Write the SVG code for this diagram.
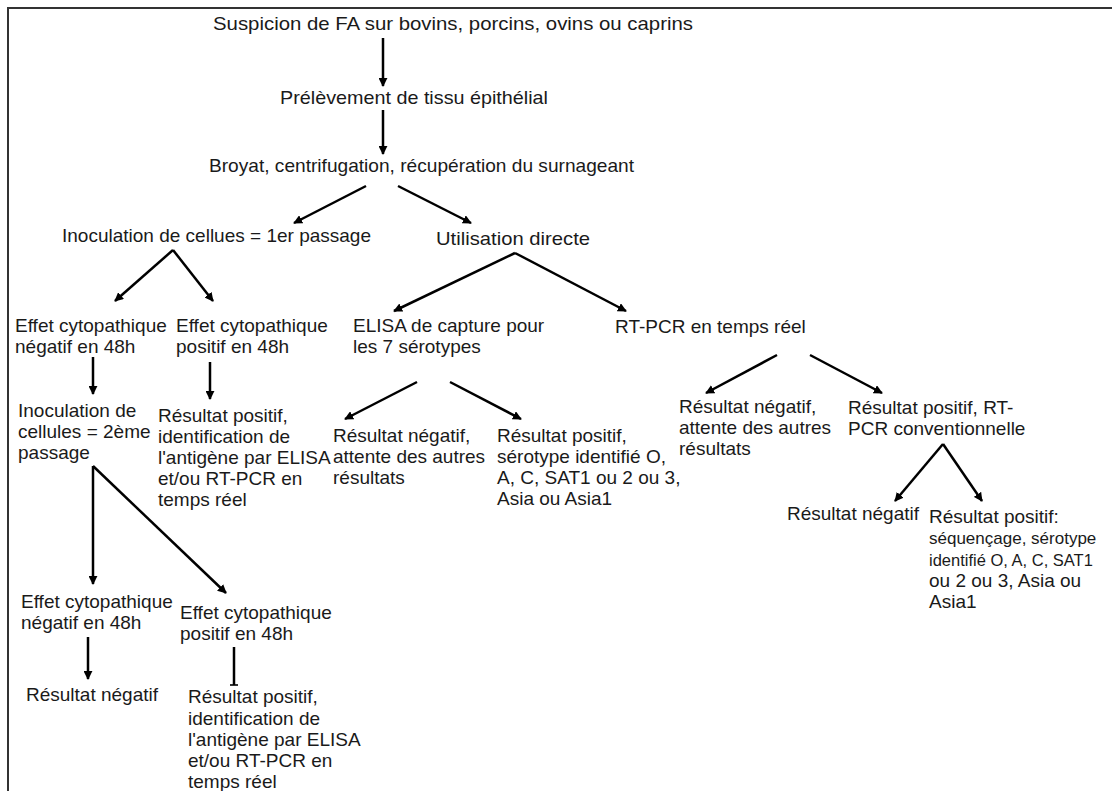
<svg xmlns="http://www.w3.org/2000/svg" width="1112" height="791" viewBox="0 0 1112 791">
<defs>
<marker id="ah" viewBox="0 0 10 10" refX="9" refY="5" markerWidth="9" markerHeight="9" markerUnits="userSpaceOnUse" orient="auto">
<path d="M0,0 L10,5 L0,10 z" fill="#000"/>
</marker>
<marker id="bar" viewBox="0 0 10 10" refX="5" refY="5" markerWidth="8" markerHeight="8" markerUnits="userSpaceOnUse" orient="auto">
<path d="M4,0 L6,0 L6,10 L4,10 z" fill="#000"/>
</marker>
</defs>
<style>
text{font-family:"Liberation Sans",Arial,sans-serif;font-size:19px;fill:#1a1a1a}
.c{stroke:#000;stroke-width:2.5;fill:none;marker-end:url(#ah)}
.cb{stroke:#000;stroke-width:2.5;fill:none;marker-end:url(#bar)}
</style>
<rect width="1112" height="791" fill="#fff"/>
<path d="M8,791 V8 H1112" fill="none" stroke="#333" stroke-width="2"/>

<g id="connectors">
<line class="c" x1="383" y1="38" x2="383" y2="86"/>
<line class="c" x1="383" y1="110" x2="383" y2="154"/>
<line class="c" x1="366" y1="186" x2="294" y2="223"/>
<line class="c" x1="398" y1="186" x2="471" y2="223"/>
<line class="c" x1="173" y1="250" x2="115" y2="301"/>
<line class="c" x1="173" y1="250" x2="213" y2="301"/>
<line class="c" x1="93" y1="357" x2="93" y2="394"/>
<line class="c" x1="210" y1="362" x2="210" y2="399"/>
<line class="c" x1="515" y1="253" x2="394" y2="311"/>
<line class="c" x1="515" y1="253" x2="626" y2="311"/>
<line class="c" x1="417" y1="382" x2="345" y2="419"/>
<line class="c" x1="450" y1="382" x2="521" y2="419"/>
<line class="c" x1="777" y1="355" x2="706" y2="393"/>
<line class="c" x1="810" y1="355" x2="882" y2="393"/>
<line class="c" x1="943" y1="444" x2="895" y2="501"/>
<line class="c" x1="943" y1="444" x2="982" y2="501"/>
<line class="c" x1="93" y1="466" x2="93" y2="584"/>
<line class="c" x1="93" y1="466" x2="226" y2="593"/>
<line class="c" x1="88" y1="637" x2="88" y2="679"/>
<line class="cb" x1="234" y1="647" x2="234" y2="685"/>
</g>

<g id="n1"><text x="213" y="30" textLength="480" lengthAdjust="spacingAndGlyphs">Suspicion de FA sur bovins, porcins, ovins ou caprins</text></g>
<g id="n2"><text x="280" y="104" textLength="268" lengthAdjust="spacingAndGlyphs">Prélèvement de tissu épithélial</text></g>
<g id="n3"><text x="209" y="172" textLength="425" lengthAdjust="spacingAndGlyphs">Broyat, centrifugation, récupération du surnageant</text></g>
<g id="n4"><text x="62" y="242">Inoculation de cellues = 1er passage</text></g>
<g id="n5"><text x="436" y="245" textLength="154" lengthAdjust="spacingAndGlyphs">Utilisation directe</text></g>
<g id="n6"><text x="15" y="332">Effet cytopathique</text><text x="15" y="353">négatif en 48h</text></g>
<g id="n7"><text x="176" y="332">Effet cytopathique</text><text x="176" y="353">positif en 48h</text></g>
<g id="n8"><text x="353" y="332">ELISA de capture pour</text><text x="353" y="353">les 7 sérotypes</text></g>
<g id="n9"><text x="615" y="333">RT-PCR en temps réel</text></g>
<g id="n10"><text x="18" y="417">Inoculation de</text><text x="18" y="438">cellules = 2ème</text><text x="18" y="459">passage</text></g>
<g id="n11"><text x="158" y="422">Résultat positif,</text><text x="158" y="443">identification de</text><text x="158" y="464">l'antigène par ELISA</text><text x="158" y="485">et/ou RT-PCR en</text><text x="158" y="506">temps réel</text></g>
<g id="n12"><text x="333" y="442">Résultat négatif,</text><text x="333" y="463">attente des autres</text><text x="333" y="484">résultats</text></g>
<g id="n13"><text x="497" y="442">Résultat positif,</text><text x="497" y="463">sérotype identifié O,</text><text x="497" y="484">A, C, SAT1 ou 2 ou 3,</text><text x="497" y="505">Asia ou Asia1</text></g>
<g id="n14"><text x="679" y="413">Résultat négatif,</text><text x="679" y="434">attente des autres</text><text x="679" y="455">résultats</text></g>
<g id="n15"><text x="848" y="414">Résultat positif, RT-</text><text x="848" y="435">PCR conventionnelle</text></g>
<g id="n16"><text x="787" y="520">Résultat négatif</text></g>
<g id="n17"><text x="929" y="523">Résultat positif:</text><text x="929" y="544" style="font-size:17px">séquençage, sérotype</text><text x="929" y="566" style="font-size:16.5px">identifié O, A, C, SAT1</text><text x="929" y="587">ou 2 ou 3, Asia ou</text><text x="929" y="608">Asia1</text></g>
<g id="n18"><text x="21" y="608">Effet cytopathique</text><text x="21" y="629">négatif en 48h</text></g>
<g id="n19"><text x="180" y="619">Effet cytopathique</text><text x="180" y="640">positif en 48h</text></g>
<g id="n20"><text x="26" y="701">Résultat négatif</text></g>
<g id="n21"><text x="188" y="703">Résultat positif,</text><text x="188" y="725">identification de</text><text x="188" y="746">l'antigène par ELISA</text><text x="188" y="767">et/ou RT-PCR en</text><text x="188" y="788">temps réel</text></g>
</svg>
